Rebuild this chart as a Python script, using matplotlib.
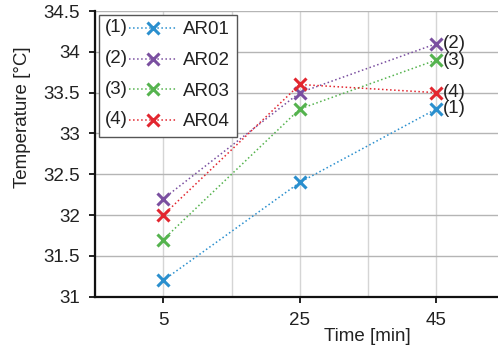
import matplotlib
matplotlib.use("Agg")
import matplotlib.pyplot as plt
from matplotlib.legend_handler import HandlerLine2D
from matplotlib.text import Text
from matplotlib.ticker import MultipleLocator

plt.rcParams["font.family"] = ["Liberation Sans", "DejaVu Sans"]
plt.rcParams["font.size"] = 13.5

# data
times = [5, 25, 45]
names = ["AR01", "AR02", "AR03", "AR04"]
numbers = ["(1)", "(2)", "(3)", "(4)"]
ar01 = [31.2, 32.4, 33.3]
ar02 = [32.2, 33.5, 34.1]
ar03 = [31.7, 33.3, 33.9]
ar04 = [32.0, 33.6, 33.5]
series = [ar01, ar02, ar03, ar04]
colors = ["#2a8fce", "#7a4fa0", "#55b34e", "#e2262f"]


class HandlerNumbered(HandlerLine2D):
    """Legend handle drawn as '(n) ---x---'."""

    def __init__(self, number, **kw):
        super().__init__(**kw)
        self.number = number

    def create_artists(self, legend, orig_handle, xdescent, ydescent,
                       width, height, fontsize, trans):
        tw = 1.25 * fontsize
        artists = super().create_artists(legend, orig_handle,
                                         xdescent - tw, ydescent,
                                         width - tw, height, fontsize, trans)
        txt = Text(-xdescent, (height - ydescent) / 2, self.number,
                   fontsize=fontsize, va="center", ha="left",
                   color="#222222", transform=trans)
        return [txt] + list(artists)


fig = plt.figure(figsize=(4.98, 3.45), dpi=100)
ax = fig.add_axes([0.1908, 0.140, 0.8223, 0.828])

lines = []
for vals, name, num, col in zip(series, names, numbers, colors):
    ln, = ax.plot(times, vals, linestyle=":", linewidth=1.1, color=col,
                  marker="x", markersize=9, markeredgewidth=2.2, label=name)
    lines.append(ln)
    ax.annotate(num, (times[-1], vals[-1]), xytext=(5, 0),
                textcoords="offset points", va="center", ha="left",
                color="#222222")

ax.set_xlim(-5, 55)
ax.set_ylim(31, 34.5)
ax.set_xticks(times)
ax.xaxis.set_minor_locator(MultipleLocator(10, offset=5))
ax.yaxis.set_major_locator(MultipleLocator(0.5))
ax.yaxis.set_major_formatter(plt.FuncFormatter(lambda v, p: f"{v:g}"))

ax.grid(True, axis="y", color="#b5b5b5", linewidth=1.0)
ax.grid(True, axis="x", which="both", color="#d5d5d5", linewidth=1.0)
ax.set_axisbelow(True)

for s in ["top", "right"]:
    ax.spines[s].set_visible(False)
for s in ["left", "bottom"]:
    ax.spines[s].set_linewidth(1.6)
    ax.spines[s].set_color("#111111")
ax.tick_params(which="major", direction="out", length=4, width=1.3,
               colors="#111111", labelcolor="#222222")
ax.tick_params(axis="y", pad=7)
ax.tick_params(axis="x", pad=7)
ax.tick_params(which="minor", length=0)

ax.set_xlabel("Time [min]", color="#222222")
ax.xaxis.label.set_va("center")
ax.xaxis.set_label_coords(0.664, -0.14)
ax.set_ylabel("Temperature [°C]", color="#222222")
ax.yaxis.label.set_va("center")
ax.yaxis.set_label_coords(-0.178, 0.627)

leg = ax.legend(handles=lines, loc="upper left",
                bbox_to_anchor=(0.0, 1.0), borderaxespad=0.2,
                handler_map={ln: HandlerNumbered(num) for ln, num in zip(lines, numbers)},
                handlelength=3.8, handletextpad=0.35, labelspacing=0.72,
                borderpad=0.35, fancybox=False, framealpha=1,
                edgecolor="#555555")
leg.get_frame().set_linewidth(1.0)
for t in leg.get_texts():
    t.set_color("#222222")

fig.savefig("out.png", dpi=100)
